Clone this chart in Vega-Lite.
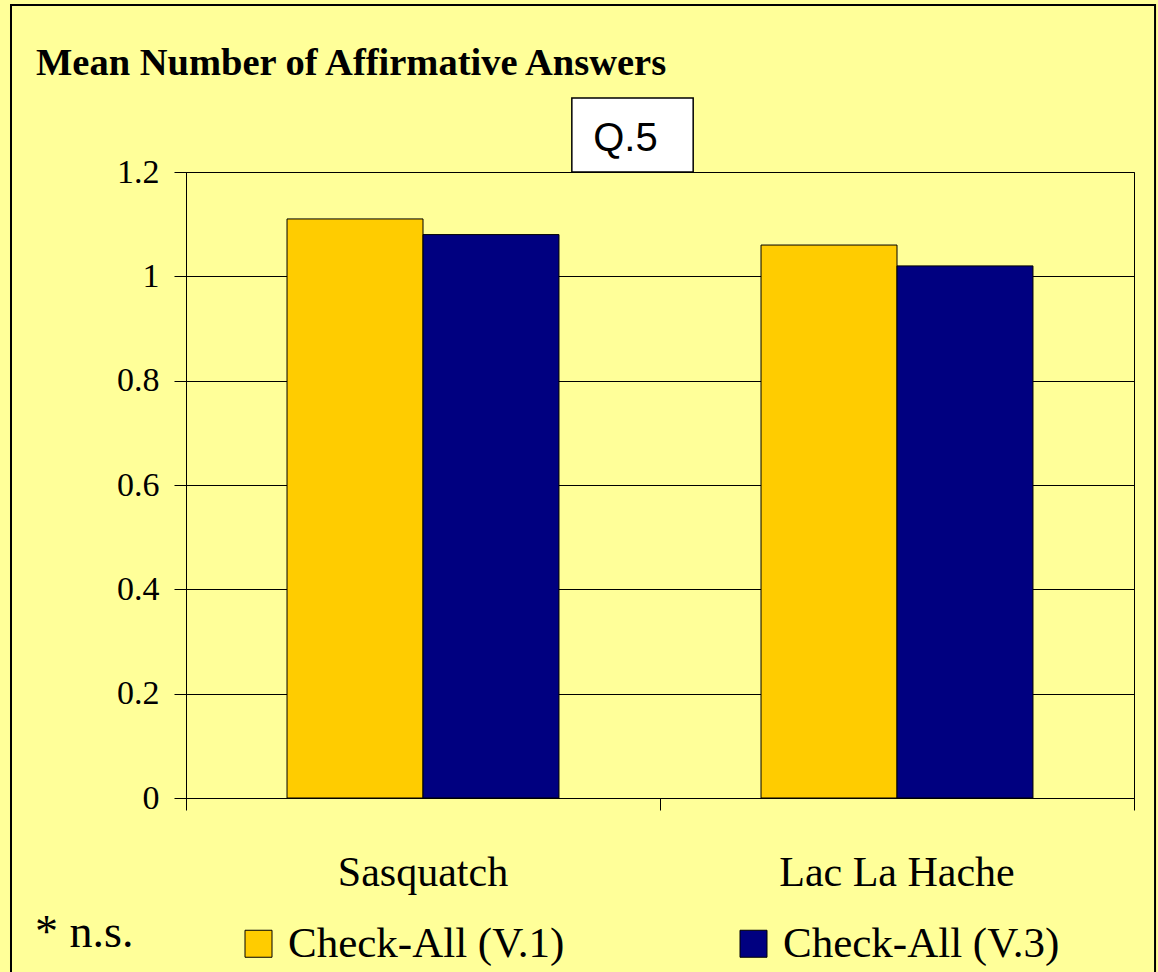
{
  "$schema": "https://vega.github.io/schema/vega-lite/v6.json",
  "width": 948,
  "height": 626,
  "autosize": {"type": "none"},
  "padding": {"left": 186, "top": 172, "right": 24, "bottom": 174},
  "background": "#FFFF99",
  "config": {
    "view": {"stroke": "black", "strokeWidth": 1},
    "font": "Liberation Serif"
  },
  "layer": [
    {
      "data": {
        "values": [
          {"site": "Sasquatch", "version": "Check-All (V.1)", "value": 1.11},
          {"site": "Sasquatch", "version": "Check-All (V.3)", "value": 1.08},
          {"site": "Lac La Hache", "version": "Check-All (V.1)", "value": 1.06},
          {"site": "Lac La Hache", "version": "Check-All (V.3)", "value": 1.02}
        ]
      },
      "mark": {"type": "bar", "stroke": "black", "strokeWidth": 1},
      "encoding": {
        "x": {
          "field": "site",
          "type": "nominal",
          "sort": ["Sasquatch", "Lac La Hache"],
          "scale": {"paddingInner": 0, "paddingOuter": 0},
          "axis": {
            "title": null,
            "labelAngle": 0,
            "ticks": false,
            "domain": true,
            "domainColor": "black",
            "grid": false,
            "labelFont": "Liberation Serif",
            "labelFontSize": 42,
            "labelColor": "black",
            "labelPadding": 54,
            "labelLimit": 0
          }
        },
        "xOffset": {
          "field": "version",
          "type": "nominal",
          "sort": ["Check-All (V.1)", "Check-All (V.3)"],
          "scale": {"paddingInner": 0, "paddingOuter": 0.743}
        },
        "y": {
          "field": "value",
          "type": "quantitative",
          "scale": {"domain": [0, 1.2], "nice": false},
          "axis": {
            "title": null,
            "values": [0, 0.2, 0.4, 0.6, 0.8, 1, 1.2],
            "format": "~g",
            "grid": true,
            "gridColor": "black",
            "gridOpacity": 1,
            "gridWidth": 1,
            "domainColor": "black",
            "tickColor": "black",
            "tickSize": 12,
            "labelFont": "Liberation Serif",
            "labelFontSize": 34,
            "labelColor": "black",
            "labelPadding": 15
          }
        },
        "color": {
          "field": "version",
          "type": "nominal",
          "sort": ["Check-All (V.1)", "Check-All (V.3)"],
          "scale": {"range": ["#FFCC00", "#000080"]},
          "legend": {
            "title": null,
            "orient": "none",
            "direction": "horizontal",
            "legendX": 51,
            "legendY": 750,
            "columnPadding": 167,
            "symbolType": "square",
            "symbolSize": 729,
            "symbolStrokeColor": "black",
            "symbolStrokeWidth": 1,
            "symbolOpacity": 1,
            "labelFont": "Liberation Serif",
            "labelFontSize": 43,
            "labelColor": "black",
            "labelOffset": 8,
            "labelLimit": 0
          }
        }
      }
    },
    {
      "data": {"values": [{"box": "Q.5", "note": "* n.s.", "title": "Mean Number of Affirmative Answers"}]},
      "layer": [
        {
          "mark": {"type": "rect", "filled": false, "stroke": "black", "strokeWidth": 2},
          "encoding": {
            "x": {
              "datum": -0.1846,
              "type": "quantitative",
              "scale": {"domain": [0, 1], "nice": false, "zero": false},
              "axis": {
                "orient": "bottom",
                "title": null,
                "values": [0, 0.5, 1],
                "labels": false,
                "ticks": true,
                "tickSize": 12,
                "tickColor": "black",
                "domain": false,
                "grid": false
              }
            },
            "x2": {"datum": 1.0222},
            "y": {
              "datum": 1.52,
              "type": "quantitative",
              "scale": {"domain": [0, 1.2], "nice": false, "zero": false},
              "axis": null
            },
            "y2": {"datum": -0.34}
          }
        },
        {
          "mark": {"type": "rect", "fill": "white", "stroke": "black", "strokeWidth": 1.5},
          "encoding": {
            "x": {"datum": 0.407, "type": "quantitative"},
            "x2": {"datum": 0.535},
            "y": {"datum": 1.2, "type": "quantitative"},
            "y2": {"datum": 1.342}
          }
        },
        {
          "mark": {"type": "text", "font": "Liberation Sans", "fontSize": 40, "align": "center", "baseline": "alphabetic", "color": "black"},
          "encoding": {
            "x": {"datum": 0.4636, "type": "quantitative"},
            "y": {"datum": 1.24, "type": "quantitative"},
            "text": {"field": "box"}
          }
        },
        {
          "mark": {"type": "text", "font": "Liberation Serif", "fontSize": 46, "align": "left", "baseline": "alphabetic", "color": "black"},
          "encoding": {
            "x": {"datum": -0.1593, "type": "quantitative"},
            "y": {"datum": -0.285, "type": "quantitative"},
            "text": {"field": "note"}
          }
        },
        {
          "mark": {"type": "text", "font": "Liberation Serif", "fontSize": 38.5, "fontWeight": "bold", "align": "left", "baseline": "alphabetic", "color": "black"},
          "encoding": {
            "x": {"datum": -0.1582, "type": "quantitative"},
            "y": {"datum": 1.386, "type": "quantitative"},
            "text": {"field": "title"}
          }
        }
      ]
    }
  ],
  "resolve": {
    "scale": {"x": "independent", "y": "independent", "color": "independent"},
    "axis": {"x": "independent", "y": "independent"}
  }
}
